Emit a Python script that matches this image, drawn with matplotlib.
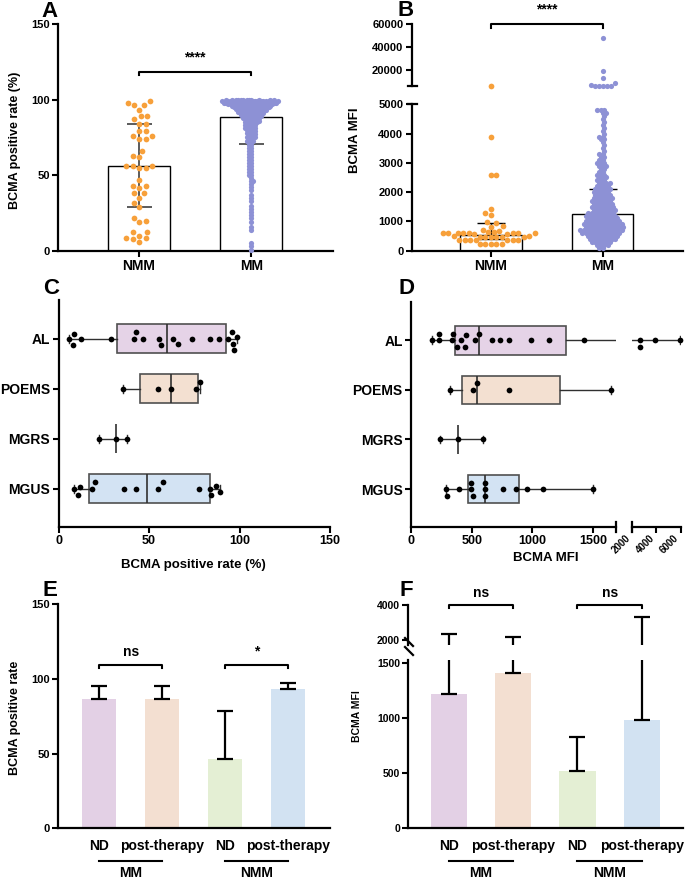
import numpy as np
import matplotlib
matplotlib.use("Agg")
import matplotlib.pyplot as plt
from matplotlib.transforms import blended_transform_factory

plt.rcParams['font.family'] = ['Liberation Sans', 'DejaVu Sans']
plt.rcParams['font.weight'] = 'bold'
plt.rcParams['axes.labelweight'] = 'bold'

# ---------------- data ----------------
# A: BCMA positive rate (%)
nmm_rate = [97.5, 96.8, 96.8, 99, 93.5, 89, 89, 87, 84, 84, 79, 79, 76, 76, 73.7, 73.7,
            66, 63, 62, 56, 56, 56, 55, 55, 47, 43, 43, 41.7, 38, 38, 35, 32, 29, 22,
            20, 19, 12.6, 12.6, 10, 8.4, 8.4, 8, 5.7]
mm_rate_levels = [100, 99, 98, 97, 96, 95, 94, 93, 92, 91, 90, 89, 88, 87, 86, 85, 84, 83,
                  82, 81, 80, 79, 78, 77, 76, 75, 74, 73, 72, 70, 68, 66, 64, 62, 60, 58,
                  56, 54, 52, 50, 48, 46, 44, 42, 40, 37, 35, 33, 30, 28, 26, 24, 22, 19,
                  16, 14, 5, 3, 0.5]
mm_rate_counts = [12, 14, 14, 12, 10, 9, 8, 7, 7, 6, 6, 5, 5, 4, 4, 4, 3, 3,
                  3, 3, 3, 2, 3, 2, 2, 3, 2, 2, 2, 2, 2, 2, 2, 2, 2, 2,
                  2, 2, 2, 2, 1, 2, 1, 1, 1, 1, 1, 1, 1, 1, 1, 1, 1, 1,
                  1, 1, 1, 1, 1]
rate_median = [56, 88.5]
rate_q1 = [29, 71]
rate_q3 = [84, 97]

# B: BCMA MFI
nmm_mfi = [6100, 3890, 2590, 2580, 1420, 1290, 1210, 980, 930, 830, 825, 720, 670, 640, 635,
           600, 590, 592, 580, 605, 610, 588, 598, 583, 595,
           480, 470, 490, 482, 475, 485, 468, 478,
           360, 370, 365, 358, 372, 355, 366,
           230, 225, 235, 220, 228]
mm_mfi_high = [48300, 19400, 13600, 8500, 7000, 6600, 6400, 6300, 6200, 6100]
mm_mfi_levels = [4800, 4700, 4600, 4500, 4400, 4300, 4200, 4100, 4000, 3900, 3800, 3700,
                 3600, 3500, 3400, 3300, 3200, 3100, 3000, 2900, 2800, 2700, 2600, 2500,
                 2400, 2300, 2200, 2100, 2000, 1900, 1800, 1700, 1600, 1500, 1400, 1300,
                 1200, 1100, 1000, 900, 800, 700, 600, 500, 400, 300, 200, 100]
mm_mfi_counts = [3, 2, 1, 1, 1, 1, 1, 1, 1, 2, 2, 1,
                 1, 1, 1, 2, 2, 2, 3, 3, 2, 2, 3, 3,
                 3, 4, 4, 5, 5, 5, 6, 6, 6, 7, 7, 8,
                 9, 9, 10, 11, 11, 12, 11, 9, 8, 6, 4, 2]
mfi_median = [535, 1241]
mfi_q1 = [400, 700]
mfi_q3 = [934, 2118]

# C / D: subtypes (bottom to top)
subtypes = ['MGUS', 'MGRS', 'POEMS', 'AL']
sub_colors = ['#d3e3f3', 'none', '#f3e0d1', '#e5d3e7']
rate_by_type = [
    [8.5, 10.5, 12, 18.6, 19.9, 36.3, 43, 55.2, 57.5, 77.7, 83.8, 84.5, 87.1, 89.3],
    [22.5, 32, 38],
    [35.5, 55, 62, 76, 78],
    [6.0, 7.8, 8.6, 12.3, 29, 41.7, 42.8, 46.9, 55.5, 56.5, 63.4, 66.2, 73.6, 83.7,
     88.9, 93.8, 96.0, 96.6, 97, 98.4],
]
mfi_by_type = [
    [288, 294, 393, 492, 492, 508, 610, 610, 610, 761, 865, 953, 1091, 1503],
    [239, 390, 596],
    [321, 514, 541, 808, 1646],
    [176, 231, 231, 341, 343, 376, 412, 445, 453, 527, 560, 665, 734, 808, 989, 1137,
     1426, 2650, 2650, 3930, 5920],
]

# E / F: ND vs post-therapy
therapy_labels = ['ND', 'post-therapy', 'ND', 'post-therapy']
group_labels = ['MM', 'NMM']
therapy_colors = ['#e3d0e5', '#f3dfd1', '#e4efd4', '#d2e2f2']
rate_mean = [86.7, 86.7, 46.4, 92.9]
rate_upper = [95.2, 95.2, 78.4, 96.9]
mfi_mean = [1221, 1415, 521, 985]
mfi_upper = [2324, 2190, 827, 3295]

ORANGE = '#f7a03a'
LILAC = '#8d91d5'

W, H = 685, 880
fig = plt.figure(figsize=(W / 100, H / 100), dpi=100)


def px_axes(left, top, right, bottom):
    return fig.add_axes([left / W, 1 - bottom / H, (right - left) / W, (bottom - top) / H])


def fig_pt(x, y):
    return x / W, 1 - y / H


def style(ax, fs=8):
    for s in ['top', 'right']:
        ax.spines[s].set_visible(False)
    for s in ['left', 'bottom']:
        ax.spines[s].set_linewidth(1.6)
    ax.tick_params(width=1.5, length=4, labelsize=fs, pad=2)


def swarm(ax, pos, values, diam, horizontal=False):
    vals = np.asarray(values, float)
    if horizontal:
        vpx = ax.transData.transform(np.column_stack([vals, np.full(len(vals), pos)]))[:, 0]
        unit = ax.transData.transform((0, pos + 1))[1] - ax.transData.transform((0, pos))[1]
    else:
        vpx = ax.transData.transform(np.column_stack([np.full(len(vals), pos), vals]))[:, 1]
        unit = ax.transData.transform((pos + 1, 0))[0] - ax.transData.transform((pos, 0))[0]
    step = diam / 4
    cands = [0.0]
    for k in range(1, 600):
        cands += [k * step, -k * step]
    offs = np.zeros(len(vals))
    pv, po = [], []
    for n, i in enumerate(np.argsort(vpx, kind='stable')):
        sgn = 1 if n % 2 == 0 else -1
        near = [(a, b) for a, b in zip(pv, po) if abs(a - vpx[i]) < diam]
        for c in cands:
            c = c * sgn
            if all((c - b) ** 2 + (vpx[i] - a) ** 2 >= diam ** 2 for a, b in near):
                break
        offs[i] = c
        pv.append(vpx[i])
        po.append(c)
    return pos + offs / abs(unit)


def expand(levels, counts):
    return np.repeat(levels, counts)


# ---------------- A ----------------
axA = px_axes(58.3, 24, 333, 251)
style(axA)
axA.set_xlim(-0.72, 1.73)
axA.set_ylim(0, 150)
axA.bar([0, 1], rate_median, width=0.55, color='white', edgecolor='black', lw=1, zorder=1)
axA.errorbar([0, 1], rate_median,
             yerr=[np.subtract(rate_median, rate_q1), np.subtract(rate_q3, rate_median)],
             fmt='none', ecolor='#404040', elinewidth=1.2, capsize=9, capthick=1.2, zorder=2)
mm_rate = expand(mm_rate_levels, mm_rate_counts)
axA.scatter(swarm(axA, 0, nmm_rate, 6.5), nmm_rate, s=17, color=ORANGE, lw=0, zorder=3, clip_on=False)
axA.scatter(swarm(axA, 1, mm_rate, 2.2), mm_rate, s=14, color=LILAC, lw=0, zorder=3, clip_on=False)
axA.set_yticks([0, 50, 100, 150])
axA.set_xticks([0, 1])
axA.set_xticklabels(['NMM', 'MM'], fontsize=10)
axA.plot([0, 0, 1, 1], [116, 118.5, 118.5, 116], color='black', lw=1.5)
axA.text(0.5, 125, '****', ha='center', va='baseline', fontsize=10)
fig.text(*fig_pt(15, 140), 'BCMA positive rate (%)', rotation=90, ha='center', va='center', fontsize=9)

# ---------------- B ----------------
axB = px_axes(411.7, 104.3, 683, 250.7)
axB2 = px_axes(411.7, 24.3, 683, 86.3)
style(axB)
style(axB2)
axB2.spines['bottom'].set_visible(False)
axB2.set_xticks([])
for ax in (axB, axB2):
    ax.set_xlim(-0.71, 1.72)
    ax.bar([0, 1], mfi_median, width=0.55, color='white', edgecolor='black', lw=1, zorder=1)
    ax.errorbar([0, 1], mfi_median,
                yerr=[np.subtract(mfi_median, mfi_q1), np.subtract(mfi_q3, mfi_median)],
                fmt='none', ecolor='black', elinewidth=1, capsize=10, capthick=1, zorder=2)
axB.set_ylim(0, 5000)
axB2.set_ylim(6000, 60000)
axB.set_yticks([0, 1000, 2000, 3000, 4000, 5000])
axB2.set_yticks([20000, 40000, 60000])
axB.set_xticks([0, 1])
axB.set_xticklabels(['NMM', 'MM'], fontsize=10)
nmm_lo = [v for v in nmm_mfi if v <= 5000]
nmm_hi = [v for v in nmm_mfi if v > 5000]
mm_lo = expand(mm_mfi_levels, mm_mfi_counts)
axB.scatter(swarm(axB, 0, nmm_lo, 5.5), nmm_lo, s=17, color=ORANGE, lw=0, zorder=3, clip_on=False)
axB.scatter(swarm(axB, 1, mm_lo, 3.3), mm_lo, s=14, color=LILAC, lw=0, zorder=3, clip_on=False)
axB2.scatter(swarm(axB2, 0, nmm_hi, 5.5), nmm_hi, s=17, color=ORANGE, lw=0, zorder=3, clip_on=False)
axB2.scatter(swarm(axB2, 1, mm_mfi_high, 4.0), mm_mfi_high, s=14, color=LILAC, lw=0, zorder=3, clip_on=False)
axB2.plot([0, 0, 1, 1], [56500, 60000, 60000, 56500], color='black', lw=1.5, clip_on=False)
axB2.text(0.5, 69650, '****', ha='center', va='baseline', fontsize=10)
# axis break marks
for ax, yy in ((axB2, 0), (axB, 1)):
    ax.plot([-0.013, 0.019], [yy, yy], transform=ax.transAxes, color='black', lw=1.6, clip_on=False)
fig.text(*fig_pt(355, 140), 'BCMA MFI', rotation=90, ha='center', va='center', fontsize=9.5)

# ---------------- C ----------------
ypos = np.arange(len(subtypes))


def box_stats(groups):
    stats = []
    for g in groups:
        g = np.sort(g)
        q1, med, q3 = np.percentile(g, [25, 50, 75], method='weibull')
        stats.append(dict(med=med, q1=q1, q3=q3, whislo=g[0], whishi=g[-1], fliers=[]))
    return stats


def draw_boxes(ax, groups):
    st = box_stats(groups)
    res = ax.bxp(st, positions=ypos, widths=0.58, orientation='horizontal', patch_artist=True,
                 showfliers=False, capwidths=0.16, manage_ticks=False,
                 boxprops=dict(edgecolor='#505050', lw=1.2),
                 whiskerprops=dict(color='#303030', lw=1),
                 capprops=dict(color='#303030', lw=1),
                 medianprops=dict(color='#303030', lw=1.2))
    for patch, col in zip(res['boxes'], sub_colors):
        patch.set_facecolor(col)
        if col == 'none':
            patch.set_edgecolor('none')
    # groups drawn without a box still show their full range line
    for k, col in enumerate(sub_colors):
        if col == 'none':
            ax.hlines(ypos[k], st[k]['whislo'], st[k]['whishi'], color='#303030', lw=1)
    return st


axC = px_axes(58.5, 300, 330, 526.7)
style(axC, fs=9)
axC.set_xlim(0, 150)
axC.set_ylim(-0.76, 3.78)
draw_boxes(axC, rate_by_type)
for k, g in enumerate(rate_by_type):
    axC.scatter(g, swarm(axC, ypos[k], g, 6.5, horizontal=True), s=17, color='black', lw=0,
                zorder=4, clip_on=False)
axC.set_yticks(ypos)
axC.set_yticklabels(subtypes, fontsize=10)
axC.set_xticks([0, 50, 100, 150])
fig.text(*fig_pt(193, 565), 'BCMA positive rate (%)', ha='center', va='center', fontsize=9.5)

# ---------------- D ----------------
axD = px_axes(411, 301.7, 616, 526.7)
axD2 = px_axes(632, 301.7, 681, 526.7)
style(axD, fs=9)
style(axD2, fs=7)
axD2.spines['left'].set_visible(False)
axD2.set_yticks([])
for ax in (axD, axD2):
    ax.set_ylim(-0.76, 3.78)
    draw_boxes(ax, mfi_by_type)
axD.set_xlim(0, 1690)
axD2.set_xlim(2000, 6030)
for k, g in enumerate(mfi_by_type):
    lo = [v for v in g if v <= 1690]
    hi = [v for v in g if v >= 2000]
    axD.scatter(lo, swarm(axD, ypos[k], lo, 6.5, horizontal=True), s=17, color='black', lw=0,
                zorder=4, clip_on=False)
    if hi:
        axD2.scatter(hi, swarm(axD2, ypos[k], hi, 6.5, horizontal=True), s=17, color='black',
                     lw=0, zorder=4, clip_on=False)
axD.set_yticks(ypos)
axD.set_yticklabels(subtypes, fontsize=10)
axD.set_xticks([0, 500, 1000, 1500])
axD2.set_xticks([2000, 4000, 6000])
axD2.set_xticklabels(['2000', '4000', '6000'], rotation=45, ha='right', va='bottom',
                     rotation_mode='anchor')
axD2.tick_params(axis='x', pad=6)
for ax, xx in ((axD, 1), (axD2, 0)):
    ax.plot([xx, xx], [-0.022, 0.022], transform=ax.transAxes, color='black', lw=1.6, clip_on=False)
fig.text(*fig_pt(546, 558), 'BCMA MFI', ha='center', va='center', fontsize=9.5)

# ---------------- E ----------------
xs = np.arange(4)
axE = px_axes(58.3, 604, 330, 828.3)
style(axE)
axE.set_xlim(-0.65, 3.67)
axE.set_ylim(0, 150)
axE.bar(xs, rate_mean, width=0.55, color=therapy_colors, zorder=1)
axE.errorbar(xs, rate_mean, yerr=[np.zeros(4), np.subtract(rate_upper, rate_mean)], fmt='none',
             ecolor='black', elinewidth=1.6, capsize=6, capthick=1.6, zorder=2)
axE.set_yticks([0, 50, 100, 150])
axE.set_xticks(xs)
axE.set_xticklabels(therapy_labels, fontsize=10)
axE.tick_params(axis='x', length=0, pad=8)
for a, b, s in ((0, 1, 'ns'), (2, 3, '*')):
    axE.plot([a, a, b, b], [107, 109.3, 109.3, 107], color='black', lw=1.5)
    axE.text((a + b) / 2, 115.5, s, ha='center', va='baseline', fontsize=10)
fig.text(*fig_pt(15, 718), 'BCMA positive rate', rotation=90, ha='center', va='center', fontsize=9)

# ---------------- F ----------------
axF = px_axes(408.3, 659.9, 683, 828.3)
axF2 = px_axes(408.3, 605, 683, 645.25)
style(axF, fs=7.5)
style(axF2, fs=7.5)
axF2.spines['bottom'].set_visible(False)
axF2.set_xticks([])
for ax in (axF, axF2):
    ax.set_xlim(-0.63, 3.64)
    ax.bar(xs, mfi_mean, width=0.56, color=therapy_colors, zorder=1)
    ax.errorbar(xs, mfi_mean, yerr=[np.zeros(4), np.subtract(mfi_upper, mfi_mean)], fmt='none',
                ecolor='black', elinewidth=1.6, capsize=6, capthick=1.6, zorder=2)
axF.set_ylim(0, 1530)
axF2.set_ylim(1700, 4000)
axF.set_yticks([0, 500, 1000, 1500])
axF2.set_yticks([2000, 4000])
axF.set_xticks(xs)
axF.set_xticklabels(therapy_labels, fontsize=10)
axF.tick_params(axis='x', length=0, pad=8)
for a, b in ((0, 1), (2, 3)):
    axF2.plot([a, a, b, b], [3810, 4000, 4000, 3810], color='black', lw=1.5, clip_on=False)
    axF2.text((a + b) / 2, 4470, 'ns', ha='center', va='baseline', fontsize=10)
# break slashes on the y axis
for y0 in (642, 651):
    x1, y1 = fig_pt(405, y0 - 4)
    x2, y2 = fig_pt(413, y0 + 4)
    fig.add_artist(plt.Line2D([x1, x2], [y1, y2], color='black', lw=1.6))
fig.text(*fig_pt(357, 716), 'BCMA MFI', rotation=90, ha='center', va='center', fontsize=7.5)

# group lines under E and F
for ax in (axE, axF):
    tr = blended_transform_factory(ax.transData, fig.transFigure)
    for k, g in enumerate(group_labels):
        ax.plot([2 * k, 2 * k + 1], [1 - 860.7 / H] * 2, transform=tr, color='black', lw=1.5,
                clip_on=False)
        ax.text(2 * k + 0.5, 1 - 873 / H, g, transform=tr, ha='center', va='center', fontsize=10)

# panel letters
for letter, (x, y) in zip('ABCDEF', [(41, 17), (397, 16), (43, 294), (398, 294), (43, 596), (400, 596)]):
    fig.text(*fig_pt(x, y), letter, ha='left', va='baseline', fontsize=16)

fig.savefig('out.png', dpi=100)
